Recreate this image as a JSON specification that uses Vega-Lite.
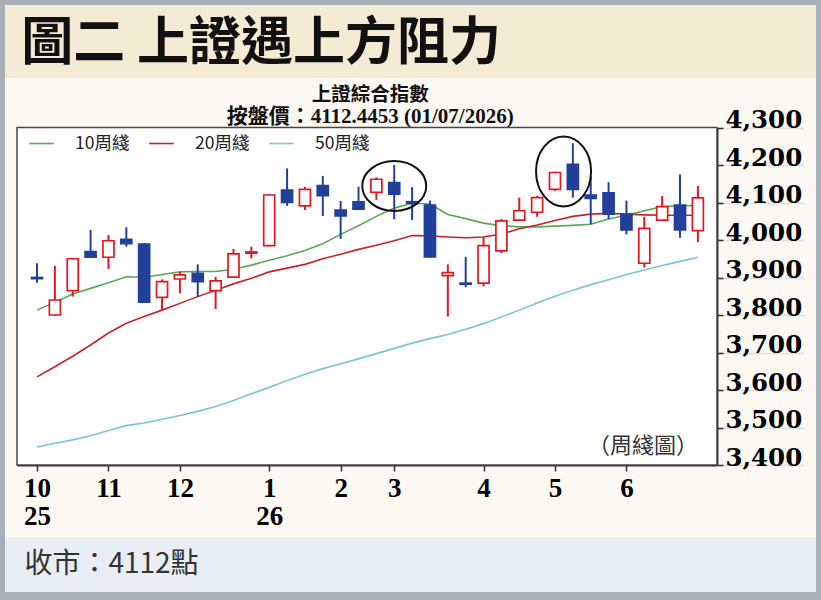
{
  "$schema": "https://vega.github.io/schema/vega-lite/v6.json",
  "background": "#a9afb6",
  "padding": {"left": 5, "top": 5, "right": 5, "bottom": 8},
  "spacing": 0,
  "config": {"view": {"stroke": null}, "concat": {"spacing": 0}, "scale": {"continuousPadding": 0}},
  "resolve": {"scale": {"color": "independent"}, "legend": {"color": "independent"}},
  "datasets": {
    "candles": [
      {"i": 0, "week": "2025-10-06", "open": 3900, "high": 3938, "low": 3886, "close": 3897},
      {"i": 1, "week": "2025-10-13", "open": 3800, "high": 3931, "low": 3798, "close": 3840},
      {"i": 2, "week": "2025-10-20", "open": 3865, "high": 3952, "low": 3849, "close": 3950},
      {"i": 3, "week": "2025-10-27", "open": 3969, "high": 4027, "low": 3952, "close": 3954},
      {"i": 4, "week": "2025-11-03", "open": 3954, "high": 4013, "low": 3923, "close": 3998},
      {"i": 5, "week": "2025-11-10", "open": 4002, "high": 4034, "low": 3982, "close": 3990},
      {"i": 6, "week": "2025-11-17", "open": 3989, "high": 3992, "low": 3832, "close": 3834},
      {"i": 7, "week": "2025-11-24", "open": 3847, "high": 3895, "low": 3813, "close": 3889},
      {"i": 8, "week": "2025-12-01", "open": 3896, "high": 3915, "low": 3858, "close": 3907},
      {"i": 9, "week": "2025-12-08", "open": 3911, "high": 3935, "low": 3849, "close": 3889},
      {"i": 10, "week": "2025-12-15", "open": 3865, "high": 3902, "low": 3816, "close": 3891},
      {"i": 11, "week": "2025-12-22", "open": 3901, "high": 3976, "low": 3900, "close": 3963},
      {"i": 12, "week": "2025-12-29", "open": 3965, "high": 3982, "low": 3951, "close": 3968},
      {"i": 13, "week": "2026-01-05", "open": 3985, "high": 4122, "low": 3983, "close": 4120},
      {"i": 14, "week": "2026-01-12", "open": 4133, "high": 4191, "low": 4091, "close": 4100},
      {"i": 15, "week": "2026-01-19", "open": 4091, "high": 4142, "low": 4080, "close": 4135},
      {"i": 16, "week": "2026-01-26", "open": 4145, "high": 4171, "low": 4064, "close": 4118},
      {"i": 17, "week": "2026-02-02", "open": 4080, "high": 4104, "low": 4003, "close": 4064},
      {"i": 18, "week": "2026-02-09", "open": 4102, "high": 4142, "low": 4080, "close": 4082},
      {"i": 19, "week": "2026-02-23", "open": 4127, "high": 4167, "low": 4107, "close": 4162},
      {"i": 20, "week": "2026-03-02", "open": 4153, "high": 4200, "low": 4055, "close": 4122},
      {"i": 21, "week": "2026-03-09", "open": 4102, "high": 4141, "low": 4053, "close": 4098},
      {"i": 22, "week": "2026-03-16", "open": 4093, "high": 4105, "low": 3953, "close": 3955},
      {"i": 23, "week": "2026-03-23", "open": 3905, "high": 3935, "low": 3796, "close": 3913},
      {"i": 24, "week": "2026-03-30", "open": 3885, "high": 3955, "low": 3874, "close": 3882},
      {"i": 25, "week": "2026-04-06", "open": 3885, "high": 4007, "low": 3876, "close": 3985},
      {"i": 26, "week": "2026-04-13", "open": 3971, "high": 4056, "low": 3965, "close": 4051},
      {"i": 27, "week": "2026-04-20", "open": 4053, "high": 4113, "low": 4052, "close": 4078},
      {"i": 28, "week": "2026-04-27", "open": 4074, "high": 4118, "low": 4062, "close": 4113},
      {"i": 29, "week": "2026-05-04", "open": 4135, "high": 4182, "low": 4131, "close": 4180},
      {"i": 30, "week": "2026-05-11", "open": 4202, "high": 4258, "low": 4113, "close": 4135},
      {"i": 31, "week": "2026-05-18", "open": 4120, "high": 4169, "low": 4042, "close": 4111},
      {"i": 32, "week": "2026-05-25", "open": 4126, "high": 4154, "low": 4056, "close": 4069},
      {"i": 33, "week": "2026-06-01", "open": 4069, "high": 4105, "low": 4015, "close": 4027},
      {"i": 34, "week": "2026-06-08", "open": 3938, "high": 4062, "low": 3927, "close": 4031},
      {"i": 35, "week": "2026-06-15", "open": 4053, "high": 4117, "low": 4052, "close": 4089},
      {"i": 36, "week": "2026-06-22", "open": 4093, "high": 4175, "low": 4006, "close": 4027},
      {"i": 37, "week": "2026-06-29", "open": 4025, "high": 4144, "low": 3994, "close": 4112.4453}
    ],
    "ma": [
      {"i":0,"ma":"10周綫","v":3813},{"i":1,"ma":"10周綫","v":3834},{"i":2,"ma":"10周綫","v":3856},{"i":3,"ma":"10周綫","v":3871},{"i":4,"ma":"10周綫","v":3886},{"i":5,"ma":"10周綫","v":3902},{"i":6,"ma":"10周綫","v":3900},{"i":7,"ma":"10周綫","v":3908},{"i":8,"ma":"10周綫","v":3915},{"i":9,"ma":"10周綫","v":3916},{"i":10,"ma":"10周綫","v":3916},{"i":11,"ma":"10周綫","v":3922},{"i":12,"ma":"10周綫","v":3933},{"i":13,"ma":"10周綫","v":3946},{"i":14,"ma":"10周綫","v":3958},{"i":15,"ma":"10周綫","v":3972},{"i":16,"ma":"10周綫","v":3990},{"i":17,"ma":"10周綫","v":4015},{"i":18,"ma":"10周綫","v":4038},{"i":19,"ma":"10周綫","v":4063},{"i":20,"ma":"10周綫","v":4085},{"i":21,"ma":"10周綫","v":4098},{"i":22,"ma":"10周綫","v":4096},{"i":23,"ma":"10周綫","v":4068},{"i":24,"ma":"10周綫","v":4057},{"i":25,"ma":"10周綫","v":4045},{"i":26,"ma":"10周綫","v":4038},{"i":27,"ma":"10周綫","v":4035},{"i":28,"ma":"10周綫","v":4035},{"i":29,"ma":"10周綫","v":4037},{"i":30,"ma":"10周綫","v":4039},{"i":31,"ma":"10周綫","v":4042},{"i":32,"ma":"10周綫","v":4056},{"i":33,"ma":"10周綫","v":4066},{"i":34,"ma":"10周綫","v":4078},{"i":35,"ma":"10周綫","v":4089},{"i":36,"ma":"10周綫","v":4091},{"i":37,"ma":"10周綫","v":4092},
      {"i":0,"ma":"20周綫","v":3635},{"i":1,"ma":"20周綫","v":3662},{"i":2,"ma":"20周綫","v":3690},{"i":3,"ma":"20周綫","v":3720},{"i":4,"ma":"20周綫","v":3752},{"i":5,"ma":"20周綫","v":3778},{"i":6,"ma":"20周綫","v":3796},{"i":7,"ma":"20周綫","v":3813},{"i":8,"ma":"20周綫","v":3831},{"i":9,"ma":"20周綫","v":3849},{"i":10,"ma":"20周綫","v":3866},{"i":11,"ma":"20周綫","v":3883},{"i":12,"ma":"20周綫","v":3898},{"i":13,"ma":"20周綫","v":3915},{"i":14,"ma":"20周綫","v":3925},{"i":15,"ma":"20周綫","v":3935},{"i":16,"ma":"20周綫","v":3950},{"i":17,"ma":"20周綫","v":3962},{"i":18,"ma":"20周綫","v":3975},{"i":19,"ma":"20周綫","v":3986},{"i":20,"ma":"20周綫","v":3998},{"i":21,"ma":"20周綫","v":4012},{"i":22,"ma":"20周綫","v":4011},{"i":23,"ma":"20周綫","v":4008},{"i":24,"ma":"20周綫","v":4006},{"i":25,"ma":"20周綫","v":4008},{"i":26,"ma":"20周綫","v":4016},{"i":27,"ma":"20周綫","v":4030},{"i":28,"ma":"20周綫","v":4040},{"i":29,"ma":"20周綫","v":4052},{"i":30,"ma":"20周綫","v":4063},{"i":31,"ma":"20周綫","v":4069},{"i":32,"ma":"20周綫","v":4071},{"i":33,"ma":"20周綫","v":4069},{"i":34,"ma":"20周綫","v":4067},{"i":35,"ma":"20周綫","v":4066},{"i":36,"ma":"20周綫","v":4066},{"i":37,"ma":"20周綫","v":4066},
      {"i":0,"ma":"50周綫","v":3448},{"i":1,"ma":"50周綫","v":3458},{"i":2,"ma":"50周綫","v":3467},{"i":3,"ma":"50周綫","v":3478},{"i":4,"ma":"50周綫","v":3492},{"i":5,"ma":"50周綫","v":3505},{"i":6,"ma":"50周綫","v":3512},{"i":7,"ma":"50周綫","v":3522},{"i":8,"ma":"50周綫","v":3532},{"i":9,"ma":"50周綫","v":3543},{"i":10,"ma":"50周綫","v":3556},{"i":11,"ma":"50周綫","v":3572},{"i":12,"ma":"50周綫","v":3590},{"i":13,"ma":"50周綫","v":3607},{"i":14,"ma":"50周綫","v":3625},{"i":15,"ma":"50周綫","v":3642},{"i":16,"ma":"50周綫","v":3657},{"i":17,"ma":"50周綫","v":3670},{"i":18,"ma":"50周綫","v":3683},{"i":19,"ma":"50周綫","v":3697},{"i":20,"ma":"50周綫","v":3711},{"i":21,"ma":"50周綫","v":3725},{"i":22,"ma":"50周綫","v":3737},{"i":23,"ma":"50周綫","v":3748},{"i":24,"ma":"50周綫","v":3762},{"i":25,"ma":"50周綫","v":3777},{"i":26,"ma":"50周綫","v":3795},{"i":27,"ma":"50周綫","v":3813},{"i":28,"ma":"50周綫","v":3832},{"i":29,"ma":"50周綫","v":3850},{"i":30,"ma":"50周綫","v":3866},{"i":31,"ma":"50周綫","v":3881},{"i":32,"ma":"50周綫","v":3894},{"i":33,"ma":"50周綫","v":3908},{"i":34,"ma":"50周綫","v":3920},{"i":35,"ma":"50周綫","v":3932},{"i":36,"ma":"50周綫","v":3943},{"i":37,"ma":"50周綫","v":3954}
    ]
  },
  "vconcat": [
    {
      "width": 811,
      "height": 73,
      "view": {"fill": "#f3ebd3", "stroke": null},
      "data": {"values": [{"t": "圖二 上證遇上方阻力"}]},
      "mark": {"type": "text", "align": "left", "baseline": "middle", "font": "Noto Sans CJK TC", "fontSize": 52, "fontWeight": "bold", "color": "#111111"},
      "encoding": {
        "text": {"field": "t"},
        "x": {"datum": 2.0, "type": "quantitative", "scale": {"domain": [0, 100]}, "axis": null},
        "y": {"datum": 47, "type": "quantitative", "scale": {"domain": [0, 100]}, "axis": null}
      }
    },
    {
      "width": 811,
      "height": 459,
      "view": {"fill": "#fcf9f2", "stroke": null},
      "layer": [
        {
          "data": {"values": [{}]},
          "mark": {"type": "rect", "fill": "white", "stroke": "#444444", "strokeWidth": 1.5},
          "encoding": {
            "x": {"datum": -1.12, "type": "quantitative", "title": null,
                  "scale": {"domain": [-1.12, 38.07], "range": [12, 712], "nice": false, "zero": false, "padding": 0},
                  "axis": {"orient": "bottom", "offset": -72, "values": [0, 4, 8, 13, 17, 20, 25, 29, 33],
                           "labelExpr": "datum.value==0?['10','25']:datum.value==4?'11':datum.value==8?'12':datum.value==13?['1','26']:datum.value==17?'2':datum.value==20?'3':datum.value==25?'4':datum.value==29?'5':'6'",
                           "labelFont": "Liberation Serif", "labelFontSize": 27, "labelFontWeight": "bold", "labelColor": "#000000",
                           "labelLineHeight": 28, "labelBaseline": "top", "labelPadding": 4, "labelOverlap": false, "labelFlush": false,
                           "tickSize": 6, "tickColor": "#333333", "tickWidth": 1.5, "domainColor": "#333333", "domainWidth": 2, "grid": false}},
            "x2": {"datum": 38.07},
            "y": {"datum": 3400, "type": "quantitative", "title": null,
                  "scale": {"domain": [3400, 4300], "range": [387, 49.5], "nice": false, "zero": false, "padding": 0},
                  "axis": {"orient": "right", "offset": -99, "values": [3400, 3500, 3600, 3700, 3800, 3900, 4000, 4100, 4200, 4300],
                           "format": ",.0f", "labelFont": "DejaVu Serif", "labelFontSize": 24.5, "labelFontWeight": "bold", "labelColor": "#000000",
                           "labelAlign": "left", "labelBaseline": "alphabetic", "labelPadding": 2, "labelOverlap": false, "labelFlush": false,
                           "tickSize": 6, "tickColor": "#333333", "tickWidth": 1.5, "domainColor": "#333333", "domainWidth": 2,
                           "grid": true, "gridColor": "#e0e0e0", "gridWidth": 1.5}},
            "y2": {"datum": 4300}
          }
        },
        {
          "data": {"name": "ma"},
          "mark": {"type": "line", "strokeWidth": 1.6},
          "encoding": {
            "x": {"field": "i", "type": "quantitative", "title": null},
            "y": {"field": "v", "type": "quantitative", "title": null},
            "color": {"field": "ma", "type": "nominal",
                      "scale": {"domain": ["10周綫", "20周綫", "50周綫"], "range": ["#5aaa55", "#c8232b", "#7cc4d4"]},
                      "legend": {"title": null, "orient": "none", "legendX": 23, "legendY": 52, "direction": "horizontal",
                                 "symbolType": "stroke", "symbolSize": 600, "symbolStrokeWidth": 1.6,
                                 "labelFont": "Noto Sans CJK TC", "labelFontSize": 17.5, "labelColor": "#222222",
                                 "labelOffset": 20, "columnPadding": 16, "padding": 0}}
          }
        },
        {
          "data": {"name": "candles"},
          "mark": {"type": "rule", "strokeWidth": 2},
          "encoding": {
            "x": {"field": "i", "type": "quantitative", "title": null},
            "y": {"field": "low", "type": "quantitative", "title": null},
            "y2": {"field": "high"},
            "color": {"condition": {"test": "datum.close >= datum.open", "value": "#e3171f"}, "value": "#22409a"}
          }
        },
        {
          "data": {"name": "candles"},
          "mark": {"type": "bar", "size": 11, "strokeWidth": 1.7},
          "encoding": {
            "x": {"field": "i", "type": "quantitative", "title": null},
            "y": {"field": "open", "type": "quantitative", "title": null},
            "y2": {"field": "close"},
            "fill": {"condition": {"test": "datum.close >= datum.open", "value": "#ffffff"}, "value": "#22409a"},
            "stroke": {"condition": {"test": "datum.close >= datum.open", "value": "#e3171f"}, "value": "#22409a"}
          }
        },
        {
          "data": {"values": [{}]},
          "mark": {"type": "point", "shape": "M -1 0 A 1 0.78 0 1 1 1 0 A 1 0.78 0 1 1 -1 0 Z", "size": 4096, "filled": false, "stroke": "#111111", "strokeWidth": 2, "opacity": 1},
          "encoding": {
            "x": {"datum": 20, "type": "quantitative"},
            "y": {"datum": 4144, "type": "quantitative"}
          }
        },
        {
          "data": {"values": [{}]},
          "mark": {"type": "point", "shape": "M -0.786 0 A 0.786 1 0 1 1 0.786 0 A 0.786 1 0 1 1 -0.786 0 Z", "size": 4900, "filled": false, "stroke": "#111111", "strokeWidth": 2, "opacity": 1},
          "encoding": {
            "x": {"datum": 29.48, "type": "quantitative"},
            "y": {"datum": 4183, "type": "quantitative"}
          }
        },
        {
          "data": {"values": [{}]},
          "mark": {"type": "text", "text": "上證綜合指數", "font": "Liberation Serif, Noto Sans CJK TC", "fontSize": 19.5, "fontWeight": "bold", "color": "#111111", "align": "center", "baseline": "middle"},
          "encoding": {
            "x": {"datum": 18.65, "type": "quantitative"},
            "y": {"datum": 4388, "type": "quantitative"}
          }
        },
        {
          "data": {"values": [{}]},
          "mark": {"type": "text", "text": "按盤價：4112.4453 (01/07/2026)", "font": "Liberation Serif, Noto Sans CJK TC", "fontSize": 21, "fontWeight": "bold", "color": "#111111", "align": "center", "baseline": "middle"},
          "encoding": {
            "x": {"datum": 18.65, "type": "quantitative"},
            "y": {"datum": 4327, "type": "quantitative"}
          }
        },
        {
          "data": {"values": [{}]},
          "mark": {"type": "text", "text": "（周綫圖）", "font": "Noto Sans CJK TC", "fontSize": 22, "color": "#333333", "align": "center", "baseline": "middle"},
          "encoding": {
            "x": {"datum": 33.93, "type": "quantitative"},
            "y": {"datum": 3450, "type": "quantitative"}
          }
        }
      ]
    },
    {
      "width": 811,
      "height": 55,
      "view": {"fill": "#e9eef5", "stroke": null},
      "data": {"values": [{"t": "收市：4112點"}]},
      "mark": {"type": "text", "align": "left", "baseline": "middle", "font": "Noto Sans CJK TC", "fontSize": 28, "color": "#333333"},
      "encoding": {
        "text": {"field": "t"},
        "x": {"datum": 2.4, "type": "quantitative", "scale": {"domain": [0, 100]}, "axis": null},
        "y": {"datum": 50, "type": "quantitative", "scale": {"domain": [0, 100]}, "axis": null}
      }
    }
  ]
}
